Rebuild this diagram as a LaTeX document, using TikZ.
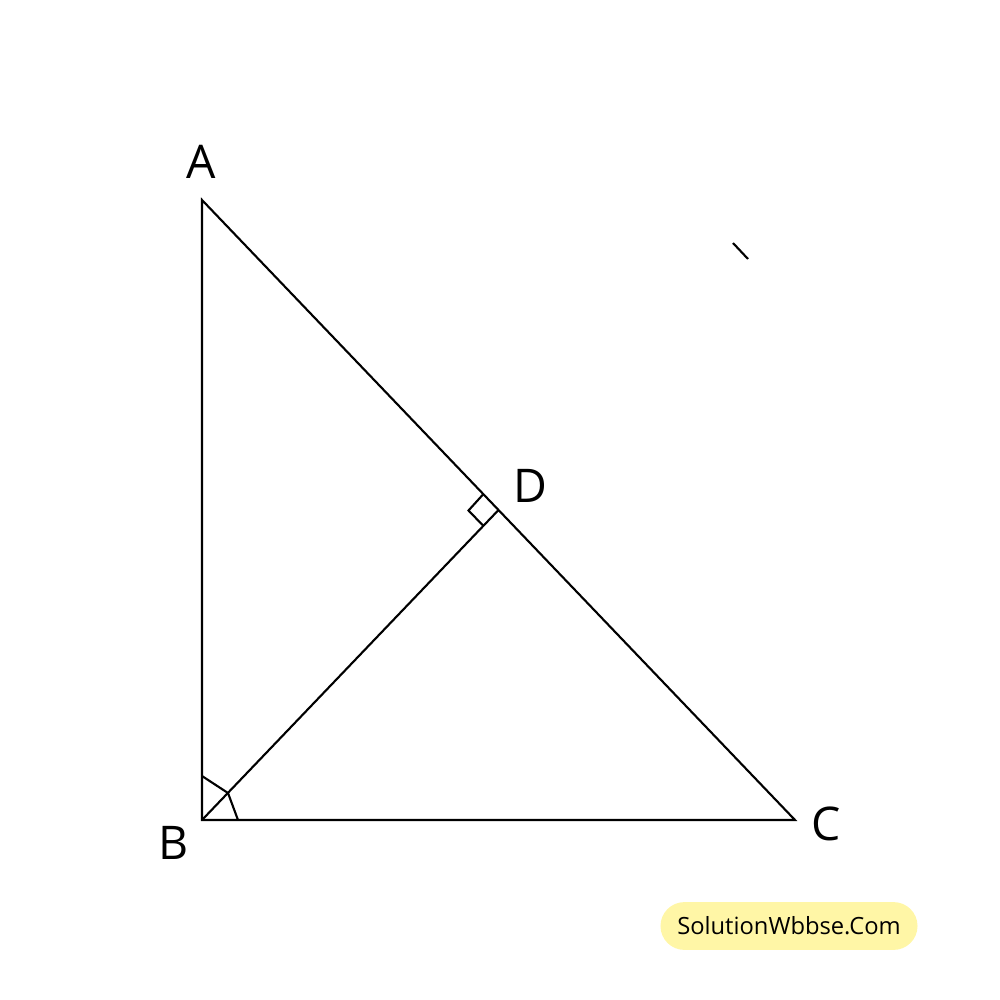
\documentclass[tikz,border=0pt]{standalone}
\usepackage{fontspec}
\setmainfont{Open Sans}
\usepackage{tikz}
\definecolor{wmyellow}{HTML}{FFF6A6}

\begin{document}
\begin{tikzpicture}[x=0.01cm,y=-0.01cm,line width=0.6pt]
\tikzstyle{every node}=[font=\fontsize{13.2}{15}\selectfont]
\useasboundingbox (0,0) rectangle (1000,1000);
\path
 (202,200)   coordinate (A)
 (202,820)   coordinate (B)
 (795,820)   coordinate (C)
 (498.5,510) coordinate (D)
 (733,243)   coordinate (t1)
 (748,259)   coordinate (t2)
 ;
\node (lA) at (201,162) {A};
\node (lB) at (174,843) {B};
\node (lC) at (826,824) {C};
\node (lD) at (530,486) {D};
\draw (A) -- (B) -- (C) -- cycle;
\draw (B) -- (D);
% right angle at D, angle marks at B
\draw (483,494.5) -- (468.5,510.5) -- (483,525.5);
\draw (202,776) -- (228,793) -- (238,820);
\draw (t1) -- (t2);
% watermark
\node[fill=wmyellow,rounded corners=6.8pt,minimum width=73.1pt,minimum height=13.6pt,
  inner sep=1pt,font=\fontsize{6.75}{8}\selectfont] (wm) at (789,926) {SolutionWbbse.Com};
\end{tikzpicture}
\end{document}
